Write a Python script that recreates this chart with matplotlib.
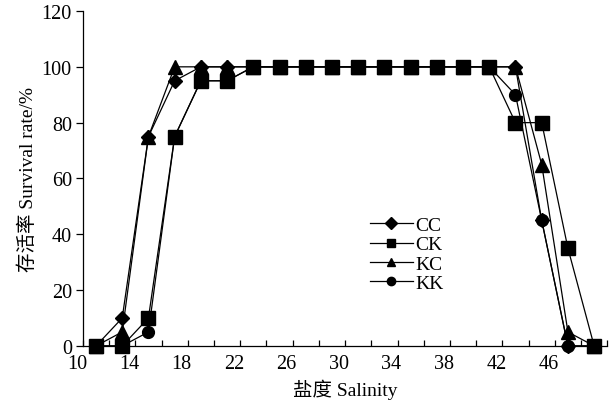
import matplotlib
matplotlib.use("Agg")
import matplotlib.pyplot as plt
import matplotlib.transforms as mtransforms

plt.rcParams['font.family'] = ['Liberation Serif', 'Noto Sans CJK SC']

# salinity levels and survival rates (%)
salinity = [11, 13, 15, 17, 19, 21, 23, 25, 27, 29, 31, 33, 35, 37, 39, 41, 43, 45, 47, 49]
cc = [0, 10, 75, 95, 100, 100, 100, 100, 100, 100, 100, 100, 100, 100, 100, 100, 100, 45, 0, 0]
ck = [0, 0, 10, 75, 95, 95, 100, 100, 100, 100, 100, 100, 100, 100, 100, 100, 80, 80, 35, 0]
kc = [0, 5, 75, 100, 100, 100, 100, 100, 100, 100, 100, 100, 100, 100, 100, 100, 100, 65, 5, 0]
kk = [0, 0, 5, 75, 95, 95, 100, 100, 100, 100, 100, 100, 100, 100, 100, 100, 90, 45, 0, 0]

series = {"CC": (cc, "D", 7), "CK": (ck, "s", 9.5), "KC": (kc, "^", 10.5), "KK": (kk, "o", 8.5)}
legend_order = ["CC", "CK", "KC", "KK"]
draw_order = ["KK", "CC", "CK", "KC"]

fig = plt.figure(figsize=(6.14, 4.14), dpi=100)
ax = fig.add_axes([0.135, 0.162, 0.854, 0.809])

for name in draw_order:
    vals, m, ms = series[name]
    ax.plot(salinity, vals, color="black", lw=0.9, marker=m, ms=ms,
            mfc="black", mec="black", clip_on=False, zorder=3)

handles = []
for name in legend_order:
    vals, m, ms = series[name]
    h, = ax.plot([], [], color="black", lw=0.9, marker=m, ms=6, mfc="black", mec="black")
    handles.append(h)

ax.set_xlim(10, 50)
ax.set_ylim(0, 120)
ax.set_xticks(range(10, 51, 2))
ax.set_xticklabels([str(t) if (t - 10) % 4 == 0 and t <= 46 else "" for t in range(10, 51, 2)])
ax.set_yticks(range(0, 121, 20))

ax.spines["top"].set_visible(False)
ax.spines["right"].set_visible(False)
for s in ("left", "bottom"):
    ax.spines[s].set_linewidth(0.9)

ax.tick_params(axis="x", direction="in", length=4, width=0.9, labelsize=14.5, pad=6)
ax.tick_params(axis="y", direction="out", length=5, width=0.9, labelsize=14.5, pad=3)

# x labels in the original sit a little left of their ticks
offset = mtransforms.ScaledTranslation(-6 / 100, 0, fig.dpi_scale_trans)
for lab in ax.get_xticklabels():
    lab.set_transform(lab.get_transform() + offset)

ax.set_xlabel("盐度 Salinity", fontsize=14, labelpad=4)
ax.set_ylabel("存活率 Survival rate/%", fontsize=14, labelpad=3)

ax.legend(handles, legend_order, loc="upper left",
          bbox_to_anchor=(0.529, 0.415), frameon=False, fontsize=14,
          handlelength=2.2, handletextpad=0.15, labelspacing=0.08, borderpad=0)

fig.savefig("out.png", dpi=100)
